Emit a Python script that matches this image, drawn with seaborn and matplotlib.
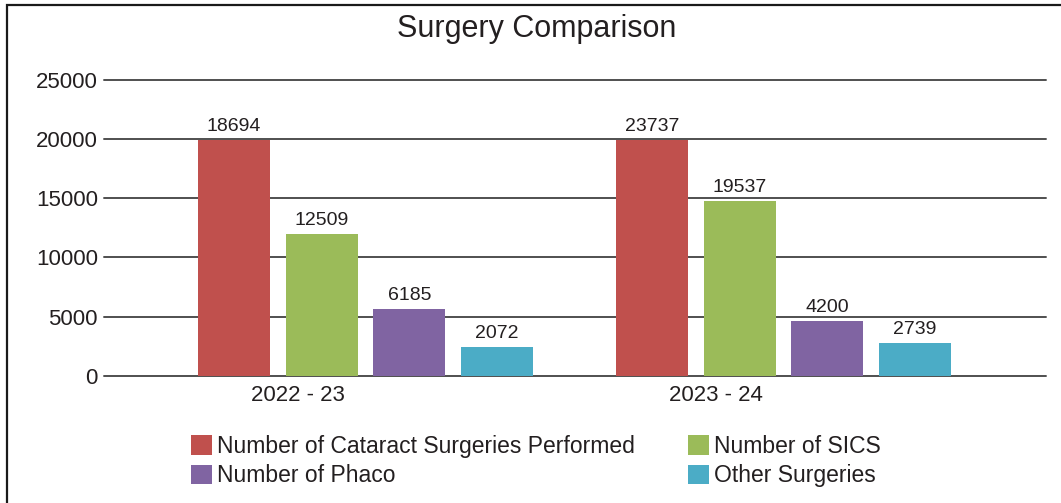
import matplotlib
matplotlib.use("Agg")
import matplotlib.pyplot as plt
import matplotlib.transforms as mtransforms
from matplotlib.patches import Rectangle, Patch
import seaborn as sns
import pandas as pd

# ---- data ----
periods = ["2022 - 23", "2023 - 24"]
series = ["Number of Cataract Surgeries Performed", "Number of SICS",
          "Number of Phaco", "Other Surgeries"]
# bar heights as drawn in the reference
cataract = [19930, 19930]
sics = [12000, 14770]
phaco = [5660, 4620]
other = [2450, 2765]
# value labels printed above the bars
cataract_labels = ["18694", "23737"]
sics_labels = ["12509", "19537"]
phaco_labels = ["6185", "4200"]
other_labels = ["2072", "2739"]
y_ticks = [0, 5000, 10000, 15000, 20000, 25000]
title = "Surgery Comparison"

colors = ["#C0504D", "#9BBB59", "#8064A2", "#4BACC6"]
text_color = "#231F20"

values = [cataract, sics, phaco, other]
labels = [cataract_labels, sics_labels, phaco_labels, other_labels]
df = pd.DataFrame({
    "period": [p for s in series for p in periods],
    "series": [s for s in series for p in periods],
    "value": [v for vals in values for v in vals],
})

sns.set_theme(style="white")
plt.rcParams["font.family"] = ["Liberation Sans", "DejaVu Sans"]
plt.rcParams["text.color"] = text_color

W, H = 1061, 503
fig = plt.figure(figsize=(W / 100, H / 100), dpi=100)
ax = fig.add_axes([104 / W, 1 - 375.7 / H, (1046 - 104) / W, (375.7 - 80) / H])

sns.barplot(data=df, x="period", y="value", hue="series", order=periods,
            hue_order=series, palette=colors, width=0.84, gap=0.18,
            saturation=1, ax=ax, legend=False, zorder=3, linewidth=0,
            edgecolor="none")

for cont, labs in zip(ax.containers, labels):
    ax.bar_label(cont, labels=labs, padding=3.5, fontsize=14, color=text_color)

ax.set_xlim(-0.6256, 1.628)
ax.set_ylim(0, 25000)
ax.set_yticks(y_ticks)
ax.set_xlabel("")
ax.set_ylabel("")
for s in ax.spines.values():
    s.set_visible(False)
ax.yaxis.grid(True, color="#4f4f4f", linewidth=1.4)
ax.xaxis.grid(False)
ax.set_axisbelow(True)
for gl in ax.get_ygridlines():
    gl.set_clip_on(False)
ax.tick_params(axis="y", length=0, pad=4.5, labelsize=16, labelcolor=text_color)
ax.tick_params(axis="x", length=0, pad=6.5, labelsize=16, labelcolor=text_color)

# the category labels sit left of the bar groups in the reference
offset = mtransforms.ScaledTranslation(-0.68, 0, fig.dpi_scale_trans)
for lbl in ax.get_xticklabels():
    lbl.set_transform(lbl.get_transform() + offset)

fig.text(536.5 / W, 1 - 37 / H, title, ha="center", va="baseline",
         fontsize=22, color=text_color)

order = [0, 2, 1, 3]
handles = [Patch(facecolor=colors[i], edgecolor="none") for i in order]
fig.legend(handles, [series[i] for i in order], ncol=2, loc="center",
           bbox_to_anchor=(536 / W, 1 - 461 / H), bbox_transform=fig.transFigure,
           frameon=False, fontsize=16.5, handlelength=0.92, handleheight=0.92,
           handletextpad=0.22, columnspacing=2.3, labelspacing=0.28, borderpad=0)

fig.add_artist(Rectangle((7 / W, -0.1), 1.2, 1.1 - 5 / H, transform=fig.transFigure,
                         fill=False, edgecolor="#1a1a1a", linewidth=1.6))

fig.savefig("out.png", dpi=100)
